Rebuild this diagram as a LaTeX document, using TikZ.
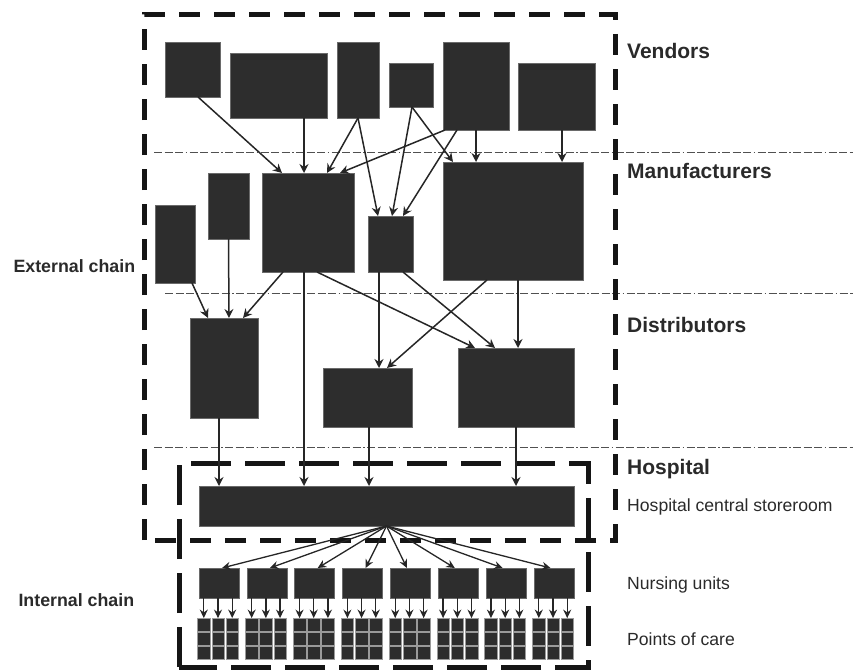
\documentclass[tikz,border=0pt]{standalone}
\usepackage{fontspec}
\setmainfont{Liberation Sans}
\usetikzlibrary{arrows.meta,fit,calc}
\definecolor{boxc}{HTML}{2D2D2D}
\definecolor{edgec}{HTML}{6A6A6A}
\definecolor{cellc}{HTML}{9A9A9A}
\definecolor{linec}{HTML}{262626}
\definecolor{dashc}{HTML}{151515}
\definecolor{textc}{HTML}{2A2A2A}
\definecolor{sepc}{HTML}{505050}
\begin{document}
\begin{tikzpicture}[x=1pt,y=-1pt,
  box/.style={fill=boxc,draw=edgec,line width=0.5pt,inner sep=0pt,outer sep=0pt},
  cell/.style={box,draw=cellc,line width=0.4pt},
  arr/.style={draw=linec,line width=1.5pt,-{Stealth[length=9pt,width=9pt,inset=3pt]}},
  thinarr/.style={draw=linec,line width=1.3pt,-{Stealth[length=8.5pt,width=8pt,inset=2.8pt]}},
  sep/.style={draw=sepc,line width=0.9pt,dash pattern=on 8pt off 2.5pt on 8pt off 2.5pt on 8pt off 2.5pt on 1.5pt off 2.5pt},
  outerline/.style={draw=dashc,line width=5pt,dash pattern=on 21pt off 14pt},
  innerline/.style={draw=dashc,line width=5pt,dash pattern=on 40pt off 14pt},
  big/.style={text=textc,inner sep=0pt,anchor=base west,font=\fontsize{21}{25}\selectfont\bfseries},
  mid/.style={text=textc,inner sep=0pt,anchor=base west,font=\fontsize{17.8}{21}\selectfont\bfseries},
  reg/.style={text=textc,inner sep=0pt,anchor=base west,font=\fontsize{17.6}{21}\selectfont}
]
\useasboundingbox (0,0) rectangle (853,669);

% separators
\coordinate (s1a) at (154,152); \coordinate (s1b) at (853,152);
\coordinate (s2a) at (165,293); \coordinate (s2b) at (853,293);
\coordinate (s3a) at (154,447); \coordinate (s3b) at (853,447);
\draw[sep] (s1a) -- (s1b);
\draw[sep] (s2a) -- (s2b);
\draw[sep] (s3a) -- (s3b);

% chain frames
\draw[outerline] (144,540) -- (144,15) -- (615,15) -- (615,540) -- cycle;
\draw[innerline] (179,667) -- (179,463) -- (588,463) -- (588,667) -- cycle;

% vendors
\node[box,fit={(165,42) (220,97)}] (v1) {};
\node[box,fit={(230,53) (327,118)}] (v2) {};
\node[box,fit={(337,42) (379,118)}] (v3) {};
\node[box,fit={(389,63) (433,107)}] (v4) {};
\node[box,fit={(443,42) (509,130)}] (v5) {};
\node[box,fit={(518,63) (595,130)}] (v6) {};

% manufacturers
\node[box,fit={(155,205) (195,283)}] (m1) {};
\node[box,fit={(208,173) (249,239)}] (m2) {};
\node[box,fit={(262,173) (354,272)}] (m3) {};
\node[box,fit={(368,216) (413,272)}] (m4) {};
\node[box,fit={(443,162) (583,280)}] (m5) {};

% distributors
\node[box,fit={(190,318) (258,418)}] (d1) {};
\node[box,fit={(323,368) (412,427)}] (d2) {};
\node[box,fit={(458,348) (574,427)}] (d3) {};

% storeroom
\node[box,fit={(199,486) (574,526)}] (s) {};

% vendor -> manufacturer
\draw[arr] ([xshift=5.5pt]v1.south) -- ([xshift=-26pt]m3.north);
\draw[arr] ([xshift=25.5pt]v2.south) -- ([xshift=-4pt]m3.north);
\draw[arr] (v3.south) -- ([xshift=19pt]m3.north);
\draw[arr] (v3.south) -- ([xshift=-12.5pt]m4.north);
\draw[arr] ([xshift=1pt]v4.south) -- ([xshift=1.5pt]m4.north);
\draw[arr] ([xshift=1pt]v4.south) -- ([xshift=-60pt]m5.north);
\draw[arr] ([xshift=-31pt]v5.south) -- ([xshift=32pt]m3.north);
\draw[arr] ([xshift=-19pt]v5.south) -- ([xshift=12.5pt]m4.north);
\draw[arr] (v5.south) -- ([xshift=-37pt]m5.north);
\draw[arr] ([xshift=5.5pt]v6.south) -- ([xshift=49pt]m5.north);

% manufacturer -> distributor
\draw[arr] ([xshift=17pt]m1.south) -- ([xshift=-16pt]d1.north);
\draw[arr] (m2.south) -- ([xshift=5pt]d1.north);
\draw[arr] ([xshift=-25pt]m3.south) -- ([xshift=19pt]d1.north);
\draw[arr] ([xshift=-4pt]m3.south) -- ([xshift=-82.5pt]s.north);
\draw[arr] ([xshift=9pt]m3.south) -- ([xshift=-41pt]d3.north);
\draw[arr] ([xshift=-11.5pt]m4.south) -- ([xshift=11.5pt]d2.north);
\draw[arr] ([xshift=12.5pt]m4.south) -- ([xshift=-21pt]d3.north);
\draw[arr] ([xshift=-26pt]m5.south) -- ([xshift=19.5pt]d2.north);
\draw[arr] ([xshift=5pt]m5.south) -- ([xshift=2pt]d3.north);

% distributor -> storeroom
\draw[arr] ([xshift=-5pt]d1.south) -- ([xshift=-167.5pt]s.north);
\draw[arr] ([xshift=1.5pt]d2.south) -- ([xshift=-17.5pt]s.north);
\draw[arr] (d3.south) -- ([xshift=129.5pt]s.north);

% nursing units and points of care
\foreach \i in {0,...,7}{
  \pgfmathsetmacro{\cx}{219+\i*47.86}
  \pgfmathsetmacro{\sh}{\i<4 ? 3 : -3.5}
  \node[box,minimum width=40pt,minimum height=30pt] (u\i) at (\cx,583) {};
  \foreach \r in {0,1,2}{
    \foreach \c in {0,1,2}{
      \pgfmathsetmacro{\px}{\cx-1+(\c-1)*14.2}
      \pgfmathsetmacro{\py}{624.4+\r*14}
      \node[cell,minimum width=12.6pt,minimum height=12.6pt] (p\i\r\c) at (\px,\py) {};
    }
  }
  \draw[thinarr] (s.south) -- ([xshift=\sh pt]u\i.north);
  \foreach \c in {0,1,2}{
    \draw[thinarr] (u\i.south -| p\i0\c.north) -- (p\i0\c.north);
  }
}

% labels
\node[big] (lv) at (627,58.5) {Vendors};
\node[big] (lm) at (627,178) {Manufacturers};
\node[big] (ld) at (627,332.5) {Distributors};
\node[big] (lh) at (627,474) {Hospital};
\node[reg] (lhs) at (627,511.5) {Hospital central storeroom};
\node[reg] (lnu) at (627,589) {Nursing units};
\node[reg] (lpc) at (627,645) {Points of care};
\node[mid] (lec) at (13.3,272.5) {External chain};
\node[mid] (lic) at (18.3,606) {Internal chain};
\end{tikzpicture}
\end{document}
